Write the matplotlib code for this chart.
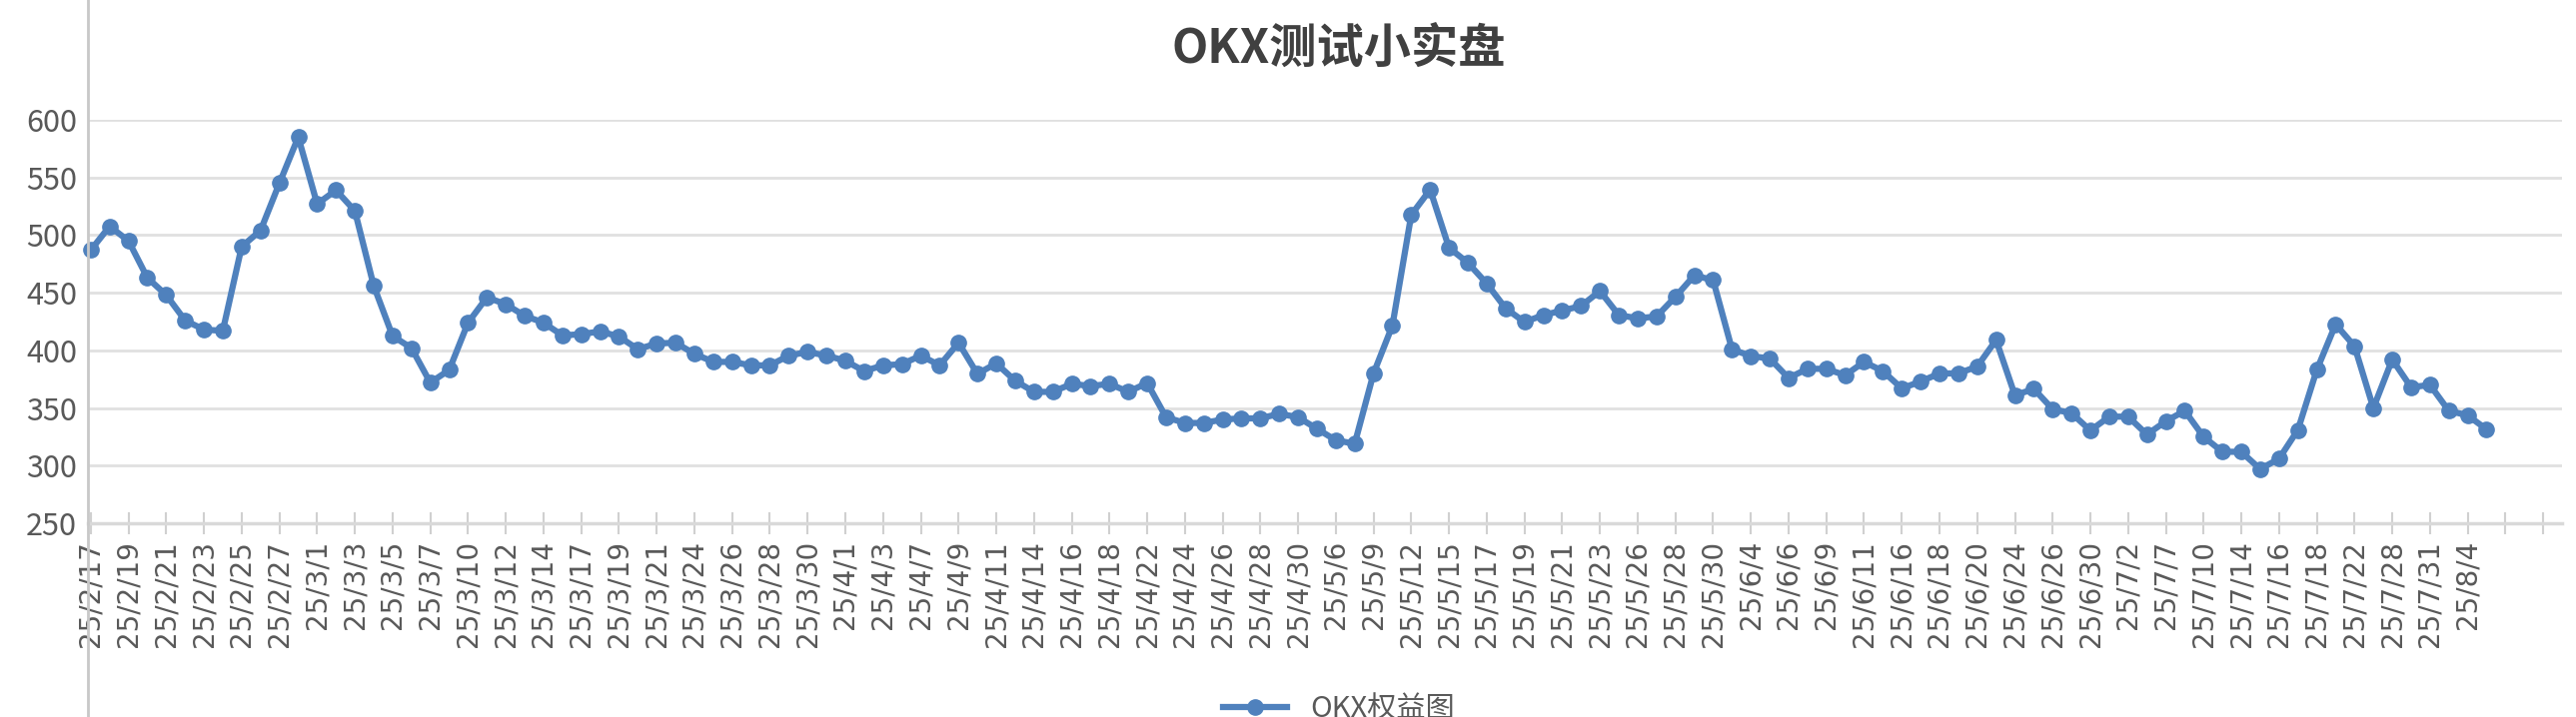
import matplotlib
matplotlib.use("Agg")
import matplotlib.pyplot as plt
from matplotlib.lines import Line2D
import numpy as np

plt.rcParams['font.family'] = ['Noto Sans CJK SC', 'DejaVu Sans']

tick_labels = ["25/2/17","25/2/19","25/2/21","25/2/23","25/2/25","25/2/27","25/3/1","25/3/3","25/3/5","25/3/7",
"25/3/10","25/3/12","25/3/14","25/3/17","25/3/19","25/3/21","25/3/24","25/3/26","25/3/28","25/3/30",
"25/4/1","25/4/3","25/4/7","25/4/9","25/4/11","25/4/14","25/4/16","25/4/18","25/4/22","25/4/24",
"25/4/26","25/4/28","25/4/30","25/5/6","25/5/9","25/5/12","25/5/15","25/5/17","25/5/19","25/5/21",
"25/5/23","25/5/26","25/5/28","25/5/30","25/6/4","25/6/6","25/6/9","25/6/11","25/6/16","25/6/18",
"25/6/20","25/6/24","25/6/26","25/6/30","25/7/2","25/7/7","25/7/10","25/7/14","25/7/16","25/7/18",
"25/7/22","25/7/28","25/7/31","25/8/4"]

values = [487,507.6,495,463,448,426,418,417,490,504,545,585,527,539,521,456,412.5,402,372,383,
424,446,440,430,424,413,414,416.5,412,401,406,406.6,397,390,390,387,387,395.5,398.6,395.5,
391,382,387,388,395.5,387,406.6,379.6,388.7,373.7,364,364,371,369,371,364,371.7,342,337,337,
340,341,341,345,342,332,322,319,380,421.5,517.6,539.4,489,476,458,436.5,424.6,430.6,434.5,438.5,
451.5,430.6,427.8,429.4,446.4,465,461,401,395,393,376,384,384,378.4,390,382,367,373,380,380,
386,409,361,366.6,349,345.5,330.5,342.5,342.5,327,338.5,347.6,325,312,312,297,306,331,383,422.6,
403.6,350,392,368,370,347.6,343.6,331.5]

W, H = 2578, 718
fig = plt.figure(figsize=(W/100, H/100), dpi=100)
left, right = 88/W, 2564/W
bottom, top = 1-524/H, 1-120/H
ax = fig.add_axes([left, bottom, right-left, top-bottom])
x = np.arange(len(values))
ax.plot(x, values, color='#4f81bd', lw=4.5, marker='o', markersize=11, label='OKX权益图', zorder=3, clip_on=False)
ax.set_xlim(-0.15, 131)
ax.set_ylim(250, 600)
ax.set_yticks(np.arange(250, 601, 50))
ax.grid(axis='y', color='#e0e0e0', lw=2)
ax.set_axisbelow(True)
tpos = list(range(0, 2*len(tick_labels), 2)) + [128, 130]
ax.set_xticks(tpos)
ax.set_xticklabels(tick_labels + ["", ""], rotation=90, fontsize=20, color='#595959', family=['DejaVu Sans'])
ax.tick_params(axis='x', direction='inout', length=16, width=1.5, color='#d0d0d0', pad=4)
ax.tick_params(axis='y', length=0, labelsize=22, labelcolor='#595959', pad=8)
for s in ['top', 'right', 'left']:
    ax.spines[s].set_visible(False)
ax.spines['bottom'].set_color('#d9d9d9')
ax.spines['bottom'].set_linewidth(2.5)
fig.add_artist(Line2D([left, left], [0, 1], transform=fig.transFigure, color='#c8c8c8', lw=2))
fig.text(1340/W, 1-49/H, 'OKX测试小实盘', ha='center', va='center', fontsize=34, fontweight='bold', color='#404040')
fig.legend(*ax.get_legend_handles_labels(), loc='center', bbox_to_anchor=(1340/W, 1-710/H), frameon=False,
           fontsize=21, labelcolor='#595959', handlelength=2.2)
fig.savefig('out.png', dpi=100, facecolor='white')
